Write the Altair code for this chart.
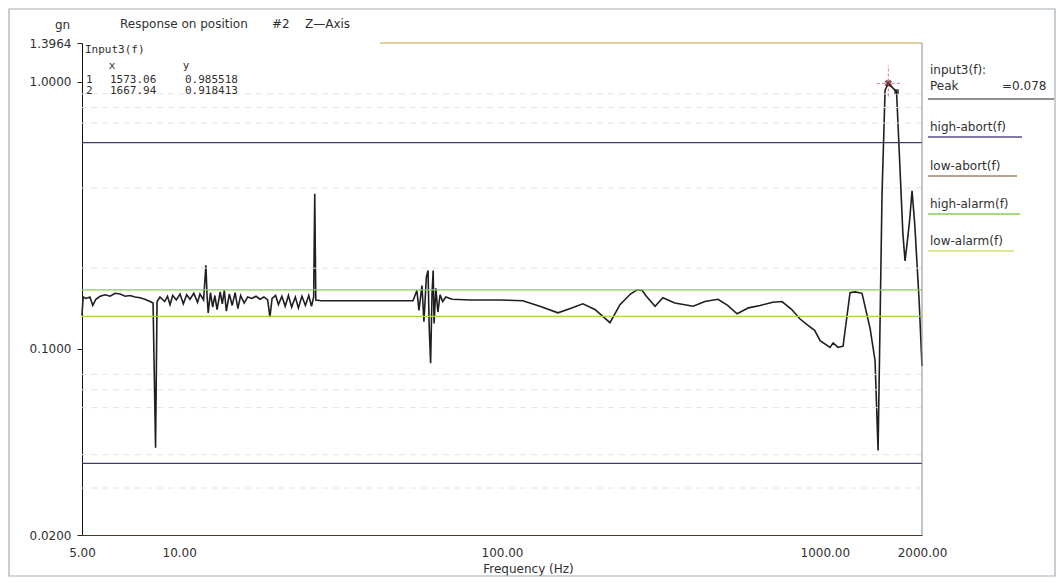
import altair as alt
import pandas as pd

# ---------------- data ----------------
freq_hz = [
    # 5 - 8.3 Hz
    5.00, 5.04, 5.15, 5.29, 5.40, 5.52, 5.69, 5.90, 6.11, 6.33, 6.56, 6.80, 7.04, 7.30, 7.56, 7.83, 8.12, 8.30,
    # 8.45 - 11.9 Hz
    8.45, 8.54, 8.72, 9.02, 9.20, 9.37, 9.55, 9.80, 10.06, 10.30, 10.55, 10.80, 11.1, 11.4, 11.6, 11.9,
    # 12.1 - 19.1 Hz
    12.1, 12.2, 12.3, 12.5, 12.7, 12.9, 13.1, 13.4, 13.6, 13.8, 14.0, 14.3, 14.6, 14.9, 15.2, 15.5, 15.9,
    16.3, 16.8, 17.3, 17.8, 18.3, 18.8, 19.1,
    # 19.4 - 53 Hz
    19.4, 19.9, 20.3, 20.8, 21.3, 21.8, 22.3, 22.9, 23.4, 24.0, 24.6, 25.2, 25.7, 26.1, 26.3, 26.5, 27.5, 40.0, 53.0,
    # 54.5 - 70 Hz
    54.5, 55.3, 56.5, 57.3, 58.3, 59.0, 59.5, 60.1, 60.7, 61.2, 61.6, 62.4, 63.3, 64.3, 65.5, 67.0, 70.0,
    # 80 - 1139 Hz
    80.0, 98.6, 116, 131, 149, 162, 178, 194, 216, 232, 250, 262, 272, 280, 298, 315, 343, 391, 425, 467,
    500, 535, 580, 630, 690, 737, 790, 838, 887, 930, 967, 1038, 1061, 1099, 1139,
    # 1197 - 2000 Hz
    1197, 1240, 1304, 1381, 1431, 1462, 1504, 1537, 1573.06, 1620, 1667.94, 1700, 1745, 1772, 1800, 1830,
    1863, 1900, 1960, 2000,
]
response_gn = [
    0.133, 0.156, 0.154, 0.156, 0.145, 0.153, 0.157, 0.159, 0.157, 0.161, 0.160, 0.157, 0.158, 0.156, 0.155, 0.153, 0.150, 0.148,
    0.0425, 0.150, 0.156, 0.150, 0.157, 0.146, 0.158, 0.152, 0.160, 0.147, 0.159, 0.153, 0.161, 0.149, 0.160, 0.152,
    0.205, 0.158, 0.136, 0.162, 0.143, 0.158, 0.140, 0.163, 0.147, 0.165, 0.138, 0.160, 0.145, 0.162, 0.141, 0.158, 0.148,
    0.156, 0.154, 0.157, 0.153, 0.156, 0.152, 0.131,
    0.154, 0.158, 0.146, 0.157, 0.144, 0.158, 0.143, 0.156, 0.142, 0.157, 0.145, 0.158, 0.144, 0.156, 0.38, 0.152, 0.151, 0.151, 0.151,
    0.165, 0.139, 0.172, 0.126, 0.185, 0.196, 0.120, 0.088, 0.160, 0.196, 0.124, 0.168, 0.137, 0.159, 0.150, 0.156, 0.153,
    0.152, 0.152, 0.151, 0.144, 0.136, 0.141, 0.147, 0.140, 0.125, 0.146, 0.160, 0.166, 0.165, 0.157, 0.144, 0.155, 0.148, 0.144, 0.150, 0.153,
    0.145, 0.135, 0.142, 0.145, 0.149, 0.150, 0.140, 0.129, 0.122, 0.117, 0.107, 0.101, 0.105, 0.101, 0.102,
    0.162, 0.163, 0.161, 0.119, 0.090, 0.0415, 0.38, 0.93, 0.985518, 0.95, 0.918413, 0.55, 0.27, 0.213, 0.25, 0.30,
    0.39, 0.29, 0.15, 0.086,
]

limit_names = ["high-abort(f)", "low-abort(f)", "high-alarm(f)", "low-alarm(f)"]
limit_values = [0.591, 0.0371, 0.166, 0.132]
limit_colors = ["#3d3b6c", "#3d3b6c", "#86cf52", "#9fd84c"]
legend_line_colors = ["#5b4b8c", "#a08466", "#86cf52", "#cfe46a"]

grid_values = [0.9, 0.8, 0.7, 0.4, 0.2, 0.08, 0.07, 0.06, 0.04, 0.03]

cursor_ids = ["1", "2"]
cursor_freq = [1573.06, 1667.94]
cursor_resp = [0.985518, 0.918413]
cursor_freq_txt = ["1573.06", "1667.94"]
cursor_resp_txt = ["0.985518", "0.918413"]

x_tick_values = [5, 10, 100, 1000, 2000]
y_tick_values = [0.02, 0.1, 1.0, 1.3964]
peak_label = "=0.078"

# ---------------- layout / style ----------------
W, H = 840, 492
FONT = "DejaVu Sans"
MONO = "DejaVu Sans Mono"
TXT = "#303030"

xs = alt.Scale(type="log", domain=[5, 2000], nice=False)
ys = alt.Scale(type="log", domain=[0.02, 1.3964], nice=False)
one = alt.Data(values=[{}])

x_axis = alt.Axis(
    values=x_tick_values, format=".2f", title="Frequency (Hz)", ticks=False,
    labelPadding=12, grid=False, labelFlush=False, labelOverlap=False,
    domainColor="#4a3a2a", titleX=446, titleY=40, titleAlign="center",
    titleBaseline="bottom",
)
y_axis = alt.Axis(
    values=y_tick_values, format=".4f", title="gn", titleAngle=0, titleX=-20,
    titleY=-19, titleAlign="center", titleBaseline="middle", tickSize=5,
    tickColor="#222", domainColor="#111", labelPadding=6, grid=False,
    labelFlush=False, labelOverlap=False,
)


def X(field):
    return alt.X(field, scale=xs, axis=x_axis)


def Y(field):
    return alt.Y(field, scale=ys, axis=y_axis)


def label(text, px, py, align="left", font=FONT, size=12, color=TXT):
    return alt.Chart(one).mark_text(
        text=text, align=align, baseline="middle", font=font, fontSize=size, color=color
    ).encode(x=alt.value(px), y=alt.value(py))


def hline(px1, px2, py, color, width=1.0):
    return alt.Chart(one).mark_rule(color=color, strokeWidth=width).encode(
        x=alt.value(px1), x2=alt.value(px2), y=alt.value(py)
    )


curve_df = pd.DataFrame({"i": list(range(len(freq_hz))), "f": freq_hz, "amp": response_gn})
limits_df = pd.DataFrame({"name": limit_names, "value": limit_values, "color": limit_colors})
grid_df = pd.DataFrame({"amp": grid_values})
cursor_df = pd.DataFrame({"id": cursor_ids, "f": cursor_freq, "amp": cursor_resp})

frame = alt.Chart(one).mark_rect(fillOpacity=0, stroke="#a3adb8", strokeWidth=1.2).encode(
    x=alt.value(-73), x2=alt.value(973), y=alt.value(-34), y2=alt.value(533)
)

grid = alt.Chart(grid_df).mark_rule(color="#e2e2e2", strokeDash=[6, 5], strokeWidth=1).encode(
    y=Y("amp:Q")
)

limits = alt.Chart(limits_df).mark_rule(strokeWidth=1.3).encode(
    y=Y("value:Q"),
    color=alt.Color("color:N", scale=None, legend=None),
)

top_line = hline(298, W, 0, "#d6c27c", 1.3)
right_line = alt.Chart(one).mark_rule(color="#8c8c8c", strokeWidth=1).encode(
    x=alt.value(W), y=alt.value(0), y2=alt.value(H)
)

curve = alt.Chart(curve_df).mark_line(color="#1f1f1f", strokeWidth=1.6).encode(
    x=X("f:Q"),
    y=Y("amp:Q"),
    order="i:Q",
)

cross_h = alt.Chart(pd.DataFrame({"f": [1450], "b": [1720], "amp": [cursor_resp[0]]})).mark_rule(
    color="#e07a8a", strokeDash=[3, 2], strokeWidth=1
).encode(x=X("f:Q"), x2="b:Q", y=Y("amp:Q"))
cross_v = alt.Chart(pd.DataFrame({"f": [cursor_freq[0]], "amp": [0.88], "hi": [1.15]})).mark_rule(
    color="#e07a8a", strokeDash=[3, 2], strokeWidth=1
).encode(x=X("f:Q"), y=Y("amp:Q"), y2="hi:Q")

c1 = alt.Chart(cursor_df.iloc[[0]]).mark_point(
    shape="cross", angle=45, filled=True, color="#5a1a20", size=60
).encode(x=X("f:Q"), y=Y("amp:Q"))
c2 = alt.Chart(cursor_df.iloc[[1]]).mark_square(color="#111111", size=22).encode(
    x=X("f:Q"), y=Y("amp:Q")
)

texts = [
    label("Response on position", 38, -19),
    label("#2", 190, -19),
    label("Z\u2014Axis", 223, -19),
    label("Input3(f)", 3, 7, font=MONO, size=11),
    label("x", 30, 23, align="center", font=MONO, size=11),
    label("y", 104, 23, align="center", font=MONO, size=11),
]
for k, (cid, ft, rt) in enumerate(zip(cursor_ids, cursor_freq_txt, cursor_resp_txt)):
    py = 37 + 11 * k
    texts += [
        label(cid, 4, py, font=MONO, size=11),
        label(ft, 28, py, font=MONO, size=11),
        label(rt, 103, py, font=MONO, size=11),
    ]

legend = [
    label("input3(f):", 848, 27),
    label("Peak", 848, 43),
    label(peak_label, 920, 43),
    hline(846, 972, 56, "#222222", 1.2),
]
legend_y = [84, 123, 161, 198]
legend_len = [94, 89, 92, 86]
for name, col, ly, ln in zip(limit_names, legend_line_colors, legend_y, legend_len):
    legend += [label(name, 848, ly), hline(846, 846 + ln, ly + 10, col, 1.3)]

chart = alt.layer(
    curve, frame, grid, limits, top_line, right_line, cross_h, cross_v, c1, c2, *texts, *legend
).properties(
    width=W,
    height=H,
    padding={"left": 74, "top": 35, "right": 134, "bottom": 43},
    autosize=alt.AutoSizeParams(type="none"),
    background="white",
).configure_view(
    strokeWidth=0
).configure_axis(
    labelFont=FONT, titleFont=FONT, labelFontSize=12, titleFontSize=12,
    titleFontWeight="normal", labelColor=TXT, titleColor=TXT,
)

chart.save("out.html", embed_options={"renderer": "svg", "actions": False})
